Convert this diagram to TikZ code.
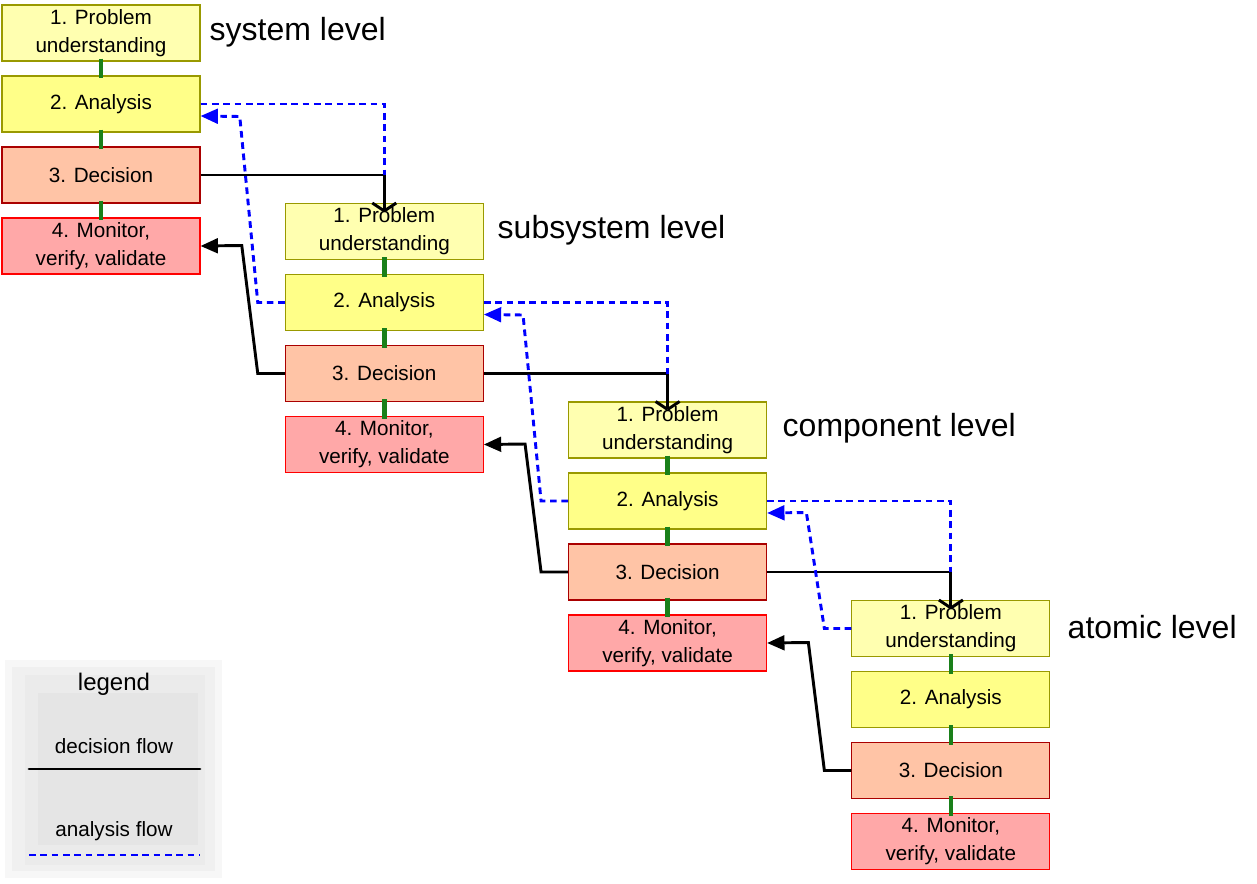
\documentclass[tikz,border=0pt]{standalone}
\usepackage{fontspec}
\setmainfont{Liberation Sans}
\usetikzlibrary{arrows.meta}
\definecolor{puF}{HTML}{FFFFB0}
\definecolor{anF}{HTML}{FFFF88}
\definecolor{deF}{HTML}{FFC4A6}
\definecolor{moF}{HTML}{FFA8A8}
\definecolor{olv}{HTML}{999900}
\definecolor{dred}{HTML}{AA0000}
\definecolor{grn}{HTML}{1A801A}
\begin{document}
\begin{tikzpicture}[x=0.75pt,y=-0.75pt,
  box/.style={draw,minimum width=198*0.75pt,minimum height=56*0.75pt,inner sep=0pt,align=center,font=\fontsize{15.5}{21}\selectfont,line width=0.8pt},
  pu/.style={box,fill=puF,draw=olv},
  an/.style={box,fill=anF,draw=olv},
  de/.style={box,fill=deF,draw=dred},
  mo/.style={box,fill=moF,draw=red},
  lvl/.style={anchor=west,font=\fontsize{24}{28}\selectfont},
  link/.style={draw=grn,line width=3.5pt},
  dflow/.style={line width=2.2pt,black},
  aflow/.style={line width=2.2pt,blue,dash pattern=on 5pt off 3.5pt},
  tipd/.style={-{Triangle[length=13pt,width=11pt]}},
]
\useasboundingbox (0,0) rectangle (1257,883);
% legend
\fill[black!3] (5,660) rectangle (222,878);
\fill[black!6] (12,667) rectangle (215,871);
\fill[black!8] (25,675) rectangle (205,865);
\fill[black!10] (38,693) rectangle (198,845);
\node (lg) at (114,684) {\fontsize{18}{20}\selectfont legend};
\node (ld) at (114,746) {\fontsize{15.5}{18}\selectfont decision flow};
\node (la) at (114,831) {\fontsize{15.5}{18}\selectfont analysis flow};
\coordinate (ld1) at (29,769); \coordinate (ld2) at (200,769);
\coordinate (la1) at (29,855); \coordinate (la2) at (200,855);
\draw[dflow,line cap=round] (ld1) -- (ld2);
\draw[aflow] (la1) -- (la2);
% boxes
\foreach \k/\nm in {0/A,1/B,2/C,3/D}{
  \pgfmathsetmacro{\cx}{101+283.3*\k}
  \pgfmathsetmacro{\cy}{33+198.5*\k}
  \node[pu] (\nm1) at (\cx,\cy) {1. Problem\\understanding};
  \node[an] (\nm2) at (\cx,\cy+71) {2. Analysis};
  \node[de] (\nm3) at (\cx,\cy+142) {3. Decision};
  \node[mo] (\nm4) at (\cx,\cy+213) {4. Monitor,\\verify, validate};
  \draw[link] ([yshift=-0.75*-3pt]\nm1.south) -- ([yshift=0.75*-3pt]\nm2.north);
  \draw[link] ([yshift=-0.75*-3pt]\nm2.south) -- ([yshift=0.75*-3pt]\nm3.north);
  \draw[link] ([yshift=-0.75*-3pt]\nm3.south) -- ([yshift=0.75*-3pt]\nm4.north);
}
\node[lvl] (L0) at (205,32) {system level};
\node[lvl] (L1) at (493,230) {subsystem level};
\node[lvl] (L2) at (778,428) {component level};
\node[lvl] (L3) at (1063,627) {atomic level};
% flows between levels
\foreach \a/\b/\dx in {A/B/0,B/C/283.3,C/D/566.6}{
  % decision down
  \coordinate (j\a) at (\b1.north |- \a3.east);
  \draw[dflow] (\a3.east) -- (j\a) -- ([yshift=0.75*-8pt]\b1.north);
  \draw[line width=2.2pt] ([yshift=0.75*-8pt]\b1.north) -- ([xshift=-9pt]\b1.north);
  \draw[line width=2.2pt] ([yshift=0.75*-8pt]\b1.north) -- ([xshift=9pt]\b1.north);
  \draw[line width=2.2pt] ([yshift=0.75*-8pt]\b1.north) -- (\b1.north);
  % analysis down
  \draw[aflow] (\a2.east) -| (j\a);
  % feedback monitor
  \coordinate (m1\a) at (258+\dx,373+198.5*0);
}
% decision feedback
\draw[dflow,tipd] (B3.west) -- ++(-27,0) -- ++(-16,-128) -- (A4.east);
\draw[dflow,tipd] (C3.west) -- ++(-27,0) -- ++(-16,-128) -- (B4.east);
\draw[dflow,tipd] (D3.west) -- ++(-27,0) -- ++(-16,-128) -- (C4.east);
% analysis feedback
\draw[aflow,tipd] (B2.west) -- ++(-27,0) -- ++(-18,-186) -- ([yshift=0.75*-12pt]A2.east);
\draw[aflow,tipd] (C2.west) -- ++(-27,0) -- ++(-18,-186) -- ([yshift=0.75*-12pt]B2.east);
\draw[aflow,tipd] (D1.west) -- ++(-27,0) -- ++(-18,-116) -- ([yshift=0.75*-12pt]C2.east);
\end{tikzpicture}
\end{document}
